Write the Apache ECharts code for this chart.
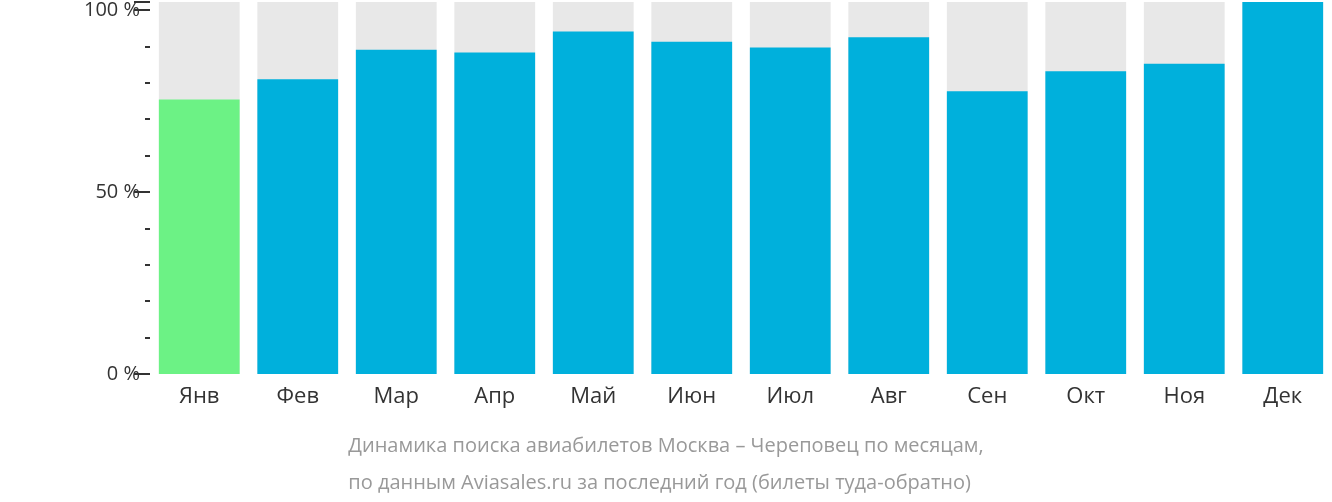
<!DOCTYPE html>
<html>
<head>
<meta charset="utf-8">
<script src="https://cdn.jsdelivr.net/npm/echarts@6/dist/echarts.min.js"></script>
<style>
  html, body { margin: 0; padding: 0; background: #fff; }
  #chart { width: 1332px; height: 502px; }
</style>
</head>
<body>
<div id="chart"></div>
<script>
// данные
const months = ['Янв', 'Фев', 'Мар', 'Апр', 'Май', 'Июн', 'Июл', 'Авг', 'Сен', 'Окт', 'Ноя', 'Дек'];
const values = [75.4, 81.0, 89.1, 88.3, 94.1, 91.3, 89.7, 92.5, 77.7, 83.2, 85.2, 102.2];
const yMax = 102.2;
const background = months.map(() => yMax);
const highlightIndex = 0;

const chart = echarts.init(document.getElementById('chart'));
chart.setOption({
    animation: false,
    textStyle: { fontFamily: 'Open Sans' },
    grid: { left: 150, right: 0, top: 0, bottom: 128 },
    xAxis: {
        type: 'category',
        data: months,
        axisLine: { show: false },
        axisTick: { show: false },
        axisLabel: { fontSize: 22, color: '#333', margin: 12 }
    },
    yAxis: {
        type: 'value',
        min: 0,
        max: yMax,
        interval: 50,
        axisLine: { show: false },
        axisTick: { show: true, length: 16, lineStyle: { color: '#333', width: 2 } },
        minorTick: { show: true, splitNumber: 5, length: 5, lineStyle: { color: '#333', width: 2 } },
        splitLine: { show: false },
        axisLabel: { fontSize: 20, color: '#333', margin: 10, formatter: v => v + ' %' }
    },
    series: [
        {
            type: 'bar',
            data: background,
            barCategoryGap: '18%',
            barGap: '-100%',
            itemStyle: { color: '#e8e8e8' },
            silent: true
        },
        {
            type: 'bar',
            data: values.map((v, i) => ({
                value: v,
                itemStyle: { color: i === highlightIndex ? '#6cf285' : '#00b0dc' }
            })),
            barCategoryGap: '18%'
        }
    ],
    graphic: [{
        type: 'text',
        left: 'center',
        top: 428,
        style: {
            text: 'Динамика поиска авиабилетов Москва – Череповец по месяцам,\nпо данным Aviasales.ru за последний год (билеты туда-обратно)',
            fontSize: 20,
            lineHeight: 37,
            fill: '#999',
            align: 'center',
            fontFamily: 'Open Sans'
        }
    }]
});
</script>
</body>
</html>
